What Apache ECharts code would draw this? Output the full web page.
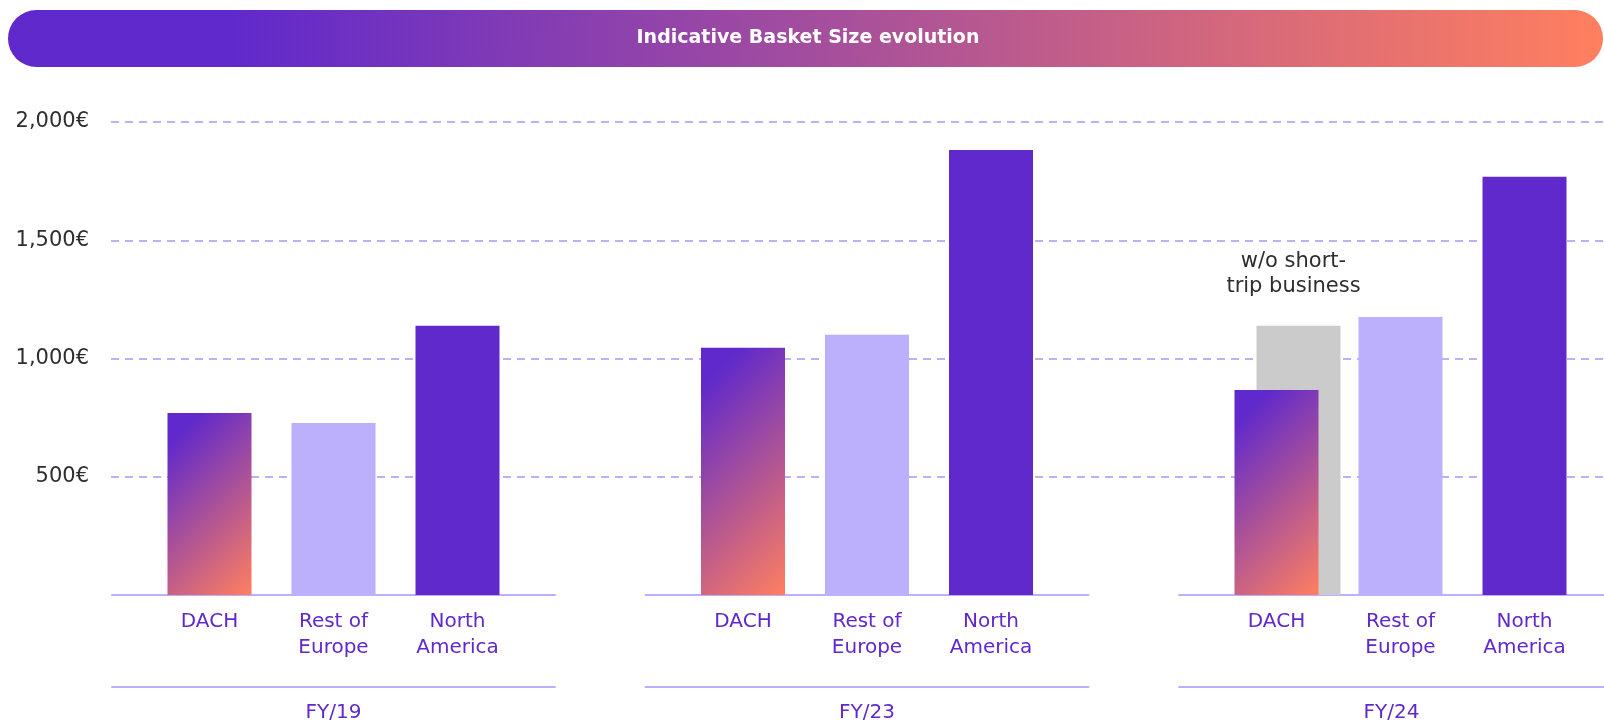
<!DOCTYPE html>
<html>
<head>
<meta charset="utf-8">
<script src="https://cdn.jsdelivr.net/npm/echarts@6/dist/echarts.min.js"></script>
<style>
  html, body { margin: 0; padding: 0; background: #ffffff; }
  #chart { width: 1604px; height: 724px; }
</style>
</head>
<body>
<div id="chart"></div>
<script>
// Basket size per region and fiscal year (EUR)
const fiscalYears = ['FY/19', 'FY/23', 'FY/24'];
const regions = ['DACH', 'Rest of\nEurope', 'North\nAmerica'];
const dachValues = [770, 1045, 867];
const restOfEuropeValues = [727, 1100, 1176];
const northAmericaValues = [1139, 1882, 1769];
const dachWithoutShortTrip = [null, null, 1138];
const yTickValues = [0, 500, 1000, 1500, 2000];
const yTickLabels = ['', '500€', '1,000€', '1,500€', '2,000€'];
const chartTitle = 'Indicative Basket Size evolution';
const shortTripNote = 'w/o short-\ntrip business';

// Palette and type
const PURPLE = '#6029CB';
const LAVENDER = '#BCB0FD';
const ORANGE = '#FF7F5F';
const GREY = '#CBCBCB';
const INK = '#2E2E2E';
const FONT = '"DejaVu Sans", "Noto Sans", sans-serif';

// Layout
const PLOT_TOP = 122;
const PLOT_HEIGHT = 473;
const Y_MIN = 0, Y_MAX = 2000, Y_STEP = 500;
const PANEL_LEFT = 112;
const PANEL_STEP = 533.5;
const PANEL_WIDTH = 443;
const BAR_INSET = 35.5;
const BAR_WIDTH = 84;
const GREY_SHIFT_GAP = '-47.6%';

// 45-degree diagonal fill from purple (top-left) to orange (bottom-right)
function diagonalFill(value) {
  const h = Math.max(1, (value - Y_MIN) / (Y_MAX - Y_MIN) * PLOT_HEIGHT);
  const w = BAR_WIDTH;
  return {
    type: 'linear',
    x: 0, y: 0,
    x2: (w + h) / (2 * w),
    y2: (w + h) / (2 * h),
    colorStops: [
      { offset: 0.12, color: PURPLE },
      { offset: 1, color: ORANGE }
    ]
  };
}

function hiddenY(gridIndex) {
  return { type: 'value', gridIndex, min: Y_MIN, max: Y_MAX, show: false, splitLine: { show: false } };
}

const grids = [];
const xAxes = [];
const yAxes = [];
const series = [];

// Shared value axis with dashed guides across the whole width
grids.push({ left: 111, right: -40, top: PLOT_TOP, height: PLOT_HEIGHT });
xAxes.push({ type: 'category', gridIndex: 0, data: [''], show: false });
yAxes.push({
  type: 'value', gridIndex: 0, min: Y_MIN, max: Y_MAX, interval: Y_STEP,
  axisLine: { show: false }, axisTick: { show: false },
  axisLabel: {
    margin: 22, color: INK, fontSize: 21, fontFamily: FONT,
    formatter: (v) => yTickLabels[yTickValues.indexOf(v)] || ''
  },
  splitLine: {
    show: true, showMinLine: false,
    lineStyle: { color: LAVENDER, width: 2, type: [8, 6] }
  }
});

fiscalYears.forEach((fy, p) => {
  const panelLeft = PANEL_LEFT + p * PANEL_STEP;

  // Frame grid: baseline and fiscal-year rule with its label
  const frameGrid = grids.length;
  grids.push({ left: panelLeft, width: PANEL_WIDTH, top: PLOT_TOP, height: PLOT_HEIGHT });
  yAxes.push(hiddenY(frameGrid));
  xAxes.push({
    type: 'category', gridIndex: frameGrid, position: 'bottom', offset: 0, data: [''],
    axisLine: { lineStyle: { color: LAVENDER, width: 2 } },
    axisTick: { show: false }, axisLabel: { show: false }
  });
  xAxes.push({
    type: 'category', gridIndex: frameGrid, position: 'bottom', offset: 92, data: [fy],
    axisLine: { lineStyle: { color: LAVENDER, width: 2 } },
    axisTick: { show: false },
    axisLabel: { margin: 16, color: PURPLE, fontSize: 20, fontFamily: FONT }
  });

  // Bar grid: one band per region
  const barGrid = grids.length;
  grids.push({ left: panelLeft + BAR_INSET, width: PANEL_WIDTH - 2 * BAR_INSET, top: PLOT_TOP, height: PLOT_HEIGHT });
  const barY = yAxes.length;
  yAxes.push(hiddenY(barGrid));
  const barX = xAxes.length;
  xAxes.push({
    type: 'category', gridIndex: barGrid, data: regions,
    axisLine: { show: false }, axisTick: { show: false },
    axisLabel: {
      interval: 0, margin: 14, color: PURPLE, fontSize: 20, lineHeight: 26,
      fontFamily: FONT
    }
  });
  series.push({
    type: 'bar', xAxisIndex: barX, yAxisIndex: barY, barWidth: BAR_WIDTH, z: 3,
    data: [
      { value: dachValues[p], itemStyle: { color: diagonalFill(dachValues[p]) } },
      { value: restOfEuropeValues[p], itemStyle: { color: LAVENDER } },
      { value: northAmericaValues[p], itemStyle: { color: PURPLE } }
    ]
  });

  // DACH without short-trip business, set slightly right behind the DACH bar
  if (dachWithoutShortTrip[p] != null) {
    const greyX = xAxes.length;
    xAxes.push({ type: 'category', gridIndex: barGrid, data: regions, show: false });
    series.push({
      type: 'bar', xAxisIndex: greyX, yAxisIndex: barY, barWidth: BAR_WIDTH,
      barGap: GREY_SHIFT_GAP, z: 1, silent: true,
      data: regions.map(() => '-')
    });
    series.push({
      type: 'bar', xAxisIndex: greyX, yAxisIndex: barY, barWidth: BAR_WIDTH,
      barGap: GREY_SHIFT_GAP, z: 2,
      itemStyle: { color: GREY },
      label: {
        show: true, position: 'top', distance: 27, offset: [-5, 0],
        formatter: shortTripNote,
        color: INK, fontSize: 21, lineHeight: 25, fontFamily: FONT
      },
      data: regions.map((_, i) => (i === 0 ? dachWithoutShortTrip[p] : '-'))
    });
  }
});

const chart = echarts.init(document.getElementById('chart'), null, { renderer: 'canvas' });
chart.setOption({
  animation: false,
  backgroundColor: '#ffffff',
  graphic: [
    {
      type: 'rect', z: 10,
      shape: { x: 8, y: 10, width: 1595, height: 57, r: 28.5 },
      style: {
        fill: {
          type: 'linear', x: 0, y: 0, x2: 1, y2: 0.3,
          colorStops: [
            { offset: 0, color: PURPLE },
            { offset: 0.14, color: PURPLE },
            { offset: 1, color: ORANGE }
          ]
        }
      }
    },
    {
      type: 'text', z: 11,
      style: {
        x: 808, y: 38.5, text: chartTitle, fill: '#ffffff',
        font: 'bold 19px ' + FONT, align: 'center', verticalAlign: 'middle'
      }
    }
  ],
  grid: grids,
  xAxis: xAxes,
  yAxis: yAxes,
  series: series
});
</script>
</body>
</html>
